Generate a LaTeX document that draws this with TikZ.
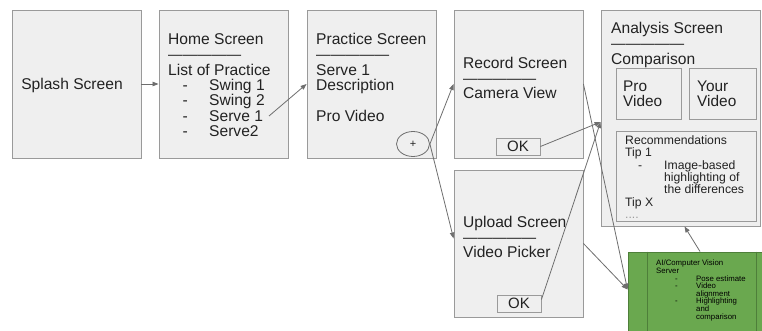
\documentclass[tikz,border=0pt]{standalone}
\usepackage{fontspec}
\setmainfont{Liberation Sans}
\usetikzlibrary{shapes.geometric,arrows.meta}
\definecolor{boxfill}{HTML}{EFEFEF}
\definecolor{boxline}{HTML}{9A9A9A}
\definecolor{arrowgray}{HTML}{6E6E6E}
\definecolor{cvgreen}{HTML}{6AA84F}
\definecolor{cvline}{HTML}{4E7F3A}
\definecolor{txtc}{HTML}{222222}
\newcommand\bigfs{\fontsize{15.6}{17}\selectfont}
\newcommand\recfs{\fontsize{12.2}{13}\selectfont}
\newcommand\cvfs{\fontsize{7.8}{8}\selectfont}
\newcommand\dashline{{\fontsize{14.6}{15}\selectfont —————}}
\newcommand\listitem[1]{\makebox[41pt][l]{\hspace{14.5pt}-}#1}
\newcommand\recitem[1]{\makebox[39pt][l]{\hspace{13pt}-}#1}
\newcommand\cvitem[1]{\makebox[40pt][l]{\hspace{19pt}-}#1}
\begin{document}
\begin{tikzpicture}[x=1pt,y=-1pt,
  screen/.style={draw=boxline, fill=boxfill, line width=0.9pt, inner sep=0pt, minimum width=129pt, minimum height=148pt},
  subbox/.style={draw=boxline, fill=boxfill, line width=0.9pt, inner sep=0pt},
  txt/.style={anchor=base west, inner sep=0pt, text=txtc, font=\bigfs},
  twoline/.style={txt, align=left, font=\fontsize{15.4}{15.4}\selectfont},
  rectxt/.style={txt, font=\recfs},
  cvtxt/.style={txt, font=\cvfs, text=black},
  conn/.style={draw=arrowgray, line width=0.8pt, -{Triangle[length=6pt,width=4.5pt]}},
]
\clip (0,0) rectangle (762,331);
\fill[white] (0,0) rectangle (762,331);

% screens
\node[screen] (splash) at (76.5,84) {};
\node[screen] (home) at (223.5,84) {};
\node[screen] (practice) at (371.5,84) {};
\node[screen] (record) at (518.5,84) {};
\node[screen, minimum height=147pt] (upload) at (518.5,243.5) {};
\node[screen, minimum width=159pt, minimum height=216pt] (analysis) at (680.5,118) {};

% sub boxes
\node[subbox, minimum width=65pt, minimum height=51pt] (provid) at (648.5,93.5) {};
\node[subbox, minimum width=67pt, minimum height=51pt] (yourvid) at (722.5,93.5) {};
\node[subbox, minimum width=140pt, minimum height=90pt] (recbox) at (686,176) {};
\node[subbox, minimum width=44pt, minimum height=17pt, font=\fontsize{15}{15}\selectfont, text=txtc] (recok) at (518,146.5) {OK};
\node[subbox, minimum width=44pt, minimum height=17pt, font=\fontsize{15}{15}\selectfont, text=txtc] (upok) at (519,303.5) {OK};
\node[ellipse, draw=arrowgray, line width=0.8pt, minimum width=33pt, minimum height=25pt, inner sep=0pt, font=\fontsize{11}{11}\selectfont, text=txtc] (plus) at (413,144) {+};

% CV server
\node[draw=cvline, fill=cvgreen, line width=1pt, minimum width=138pt, minimum height=81pt, inner sep=0pt] (cvserver) at (697,292.5) {};
\draw[cvline, line width=1pt] ([xshift=20pt]cvserver.north west) -- ([xshift=20pt]cvserver.south west);
\draw[cvline, line width=1pt] ([xshift=129pt]cvserver.north west) -- ([xshift=129pt]cvserver.south west);

% texts
\node[txt, anchor=base] (splashtxt) at (72,89.5) {Splash Screen};

\foreach \t/\r [count=\i] in {Home Screen/0, \dashline/1, List of Practice/2, \listitem{Swing 1}/3, \listitem{Swing 2}/4, \listitem{Serve 1}/5, \listitem{Serve2}/6}
  \node[txt] (home-l\i) at (168,44.5+15.35*\r) {\t};

\foreach \t/\r [count=\i] in {Practice Screen/0, \dashline/1, Serve 1/2, Description/3, Pro Video/5}
  \node[txt] (practice-l\i) at (316,44.5+15.35*\r) {\t};

\foreach \t/\r [count=\i] in {Record Screen/0, \dashline/1, Camera View/2}
  \node[txt] (record-l\i) at (463,68.5+15.2*\r) {\t};

\foreach \t/\r [count=\i] in {Upload Screen/0, \dashline/1, Video Picker/2}
  \node[txt] (upload-l\i) at (463,227.5+15.2*\r) {\t};

\foreach \t/\r [count=\i] in {Analysis Screen/0, \dashline/1, Comparison/2}
  \node[txt] (analysis-l\i) at (611,33.5+15.4*\r) {\t};

\node[twoline] (protxt) at (623,107) {Pro\\Video};
\node[twoline] (yourtxt) at (697,107) {Your\\Video};

\foreach \t/\r [count=\i] in {Recommendations/0, Tip 1/1, \recitem{Image-based}/2, \hspace{39pt}highlighting of/3, \hspace{39pt}the differences/4, Tip X/5}
  \node[rectxt] (rec-l\i) at (625,144.3+12.4*\r) {\t};
\node[rectxt, text=boxline] (rec-dots) at (625,218) {....};

\foreach \t/\r [count=\i] in {{AI/Computer Vision}/0, Server/1, \cvitem{Pose estimate}/2, \cvitem{Video}/3, \hspace{40pt}alignment/4, \cvitem{Highlighting}/5, \hspace{40pt}and/6, \hspace{40pt}comparison/7}
  \node[cvtxt] (cv-l\i) at (656,265.8+7.6*\r) {\t};

% connectors
\coordinate (serve1end) at (269,116);
\draw[conn] (splash.east) -- (home.west);
\draw[conn] (serve1end) -- (practice.west);
\draw[conn] (plus.east) -- (record.west);
\draw[conn] (plus.east) -- ([yshift=5pt]upload.west);
\draw[conn] (recok.east) -- ([yshift=-4pt]analysis.west);
\draw[conn] ([yshift=4pt]upok.east) -- ([yshift=-4pt]analysis.west);
\draw[conn] (record.east) -- ([yshift=3pt]cvserver.west);
\draw[conn] (upload.east) -- ([yshift=3pt]cvserver.west);
\draw[conn] ([xshift=3pt]cvserver.north) -- ([xshift=4pt]analysis.south);
\end{tikzpicture}
\end{document}
